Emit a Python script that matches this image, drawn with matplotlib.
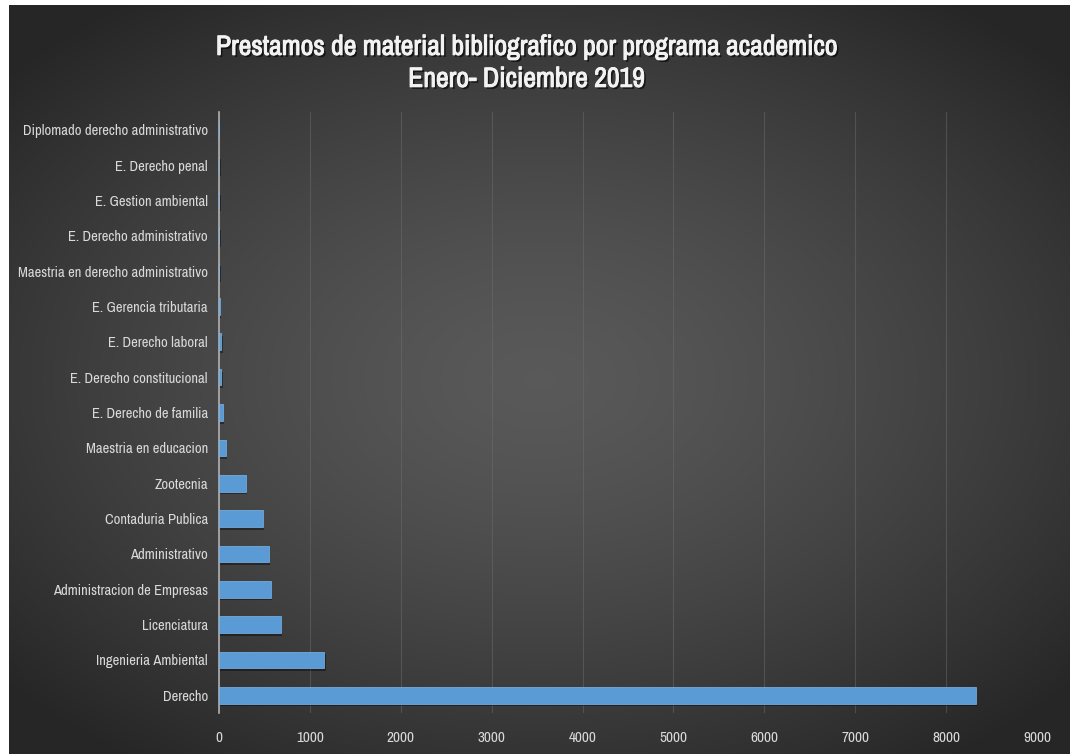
import numpy as np
import matplotlib.pyplot as plt
import matplotlib.patheffects as pe
from matplotlib import font_manager

# data, bottom to top as in the chart
programas = [
    "Derecho", "Ingenieria Ambiental", "Licenciatura", "Administracion de Empresas",
    "Administrativo", "Contaduria Publica", "Zootecnia", "Maestria en educacion",
    "E. Derecho de familia", "E. Derecho constitucional", "E. Derecho laboral",
    "E. Gerencia tributaria", "Maestria en derecho administrativo",
    "E. Derecho administrativo", "E. Gestion ambiental", "E. Derecho penal",
    "Diplomado derecho administrativo",
]
prestamos = [8330, 1158, 679, 569, 550, 480, 293, 77, 40, 25, 25, 6, 4, 4, 3, 2, 1]
xticks = [0, 1000, 2000, 3000, 4000, 5000, 6000, 7000, 8000, 9000]

# look for a narrow font, like Calibri in the original
names = sorted({f.name for f in font_manager.fontManager.ttflist})
narrow = [n for n in names if 'Narrow' in n or 'Condensed' in n]
fam = narrow[0] if narrow else 'Lato'
plt.rcParams['font.family'] = [fam, 'DejaVu Sans']

fig = plt.figure(figsize=(10.7, 7.54), dpi=100)
fig.patch.set_facecolor('white')

# dark radial background
bg = fig.add_axes([0.008, 0.0, 0.992, 0.993], zorder=0)
yy, xx = np.mgrid[-1:1:300j, -1:1:400j]
r = np.clip(np.sqrt((xx * 0.75) ** 2 + (yy * 0.8) ** 2), 0, 1)
c0, c1 = np.array([0.35, 0.35, 0.35]), np.array([0.15, 0.15, 0.15])
img = c0 + (c1 - c0) * r[..., None] ** 1.4
bg.imshow(img, aspect='auto', extent=[0, 1, 0, 1])
bg.set_axis_off()

ax = fig.add_axes([219 / 1070, 1 - 713 / 754, (1037 - 219) / 1070, (713 - 112) / 754], zorder=1)
ax.patch.set_alpha(0)

y = np.arange(len(programas))
bars = ax.barh(y, prestamos, height=0.47, color='#5B9BD5', edgecolor='#7DB8EC', linewidth=0.5, zorder=3)
for b in bars:
    b.set_path_effects([pe.SimplePatchShadow(offset=(1, -2), shadow_rgbFace='black', alpha=0.4), pe.Normal()])

ax.set_xlim(0, 9000)
ax.set_ylim(-0.5, len(programas) - 0.5)
ax.set_xticks(xticks)
ax.set_yticks(y)
ax.set_yticklabels(programas)
ax.tick_params(colors='#d9d9d9', labelsize=10.5, length=0, pad=8)
ax.tick_params(axis='x', pad=13, labelsize=11)
ax.grid(axis='x', color='#707070', linewidth=0.8, alpha=0.45, zorder=0)
for s in ['top', 'right', 'bottom']:
    ax.spines[s].set_visible(False)
ax.spines['left'].set_color('#b0b0b0')
ax.spines['left'].set_linewidth(1.2)

# the narrow font has no bold face here, so a thin stroke thickens the title
fig.text(0.492, 0.916, "Prestamos de material bibliografico por programa academico\nEnero- Diciembre 2019",
         ha='center', va='center', color='#f2f2f2', fontsize=20, fontweight='bold', linespacing=1.35,
         path_effects=[pe.withSimplePatchShadow(offset=(1.5, -1.5), shadow_rgbFace='black', alpha=0.6),
                       pe.withStroke(linewidth=0.7, foreground='#f2f2f2')])

fig.savefig('out.png', dpi=100)
